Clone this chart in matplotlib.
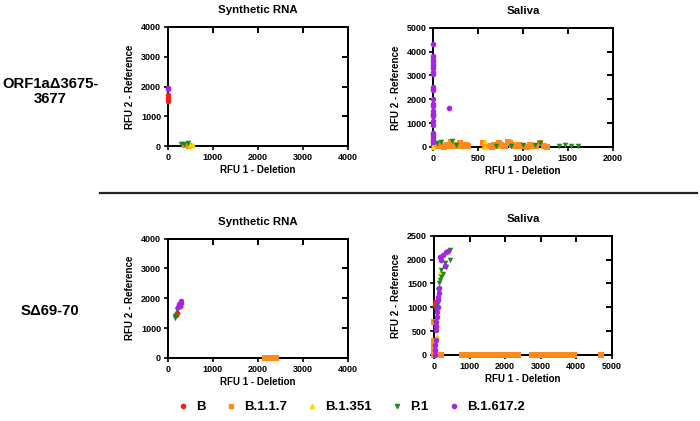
import matplotlib
matplotlib.use('Agg')
import matplotlib.pyplot as plt
from matplotlib.lines import Line2D

plt.rcParams['font.family'] = ['Liberation Sans', 'DejaVu Sans']
plt.rcParams['font.weight'] = 'bold'

variants = ['B', 'B.1.1.7', 'B.1.351', 'P.1', 'B.1.617.2']
colors = {'B': '#f01e1e', 'B.1.1.7': '#ff8a1c', 'B.1.351': '#f2dc00',
          'P.1': '#1e8a1e', 'B.1.617.2': '#a424e8'}
markers = {'B': 'o', 'B.1.1.7': 's', 'B.1.351': '^', 'P.1': 'v', 'B.1.617.2': 'o'}

# ORF1a deletion - synthetic RNA
orf_syn = {
    'B': ([0, 0, 0], [1500, 1600, 1700]),
    'B.1.1.7': ([380, 420, 460], [20, 40, 10]),
    'B.1.351': ([500, 540, 560], [30, 20, 40]),
    'P.1': ([300, 360, 450], [70, 60, 90]),
    'B.1.617.2': ([0, 0], [1900, 1950]),
}

# ORF1a deletion - saliva
orf_sal = {
    'B': ([0, 0, 0, 0, 0], [1400, 1350, 300, 200, 100]),
    'B.1.1.7': ([20, 40, 60, 90, 120, 150, 180, 200, 220, 260, 280, 300, 330, 360, 390,
                 550, 580, 620, 650, 680, 700, 730, 750, 780, 800, 830, 860, 880, 900,
                 930, 960, 1000, 1050, 1080, 1100, 1150, 1190, 1230, 1270],
                [50, 20, 80, 30, 10, 60, 40, 220, 30, 100, 50, 180, 20, 60, 30,
                 150, 20, 40, 10, 60, 30, 170, 90, 20, 40, 220, 150, 60, 30,
                 20, 80, 40, 10, 60, 30, 20, 150, 30, 10]),
    'B.1.351': ([0, 0, 580, 575], [0, 50, 250, 0]),
    'P.1': ([40, 90, 210, 250, 700, 870, 1000, 1140, 1190, 1400, 1470, 1540, 1610],
            [150, 220, 250, 80, 40, 50, 60, 80, 150, 40, 60, 50, 40]),
    'B.1.617.2': ([0, 0, 0, 0, 0, 0, 0, 0, 0, 0, 0, 0, 0, 0, 0, 0, 0, 0, 0, 0, 0, 0, 0, 170],
                  [4300, 3800, 3700, 3600, 3500, 3400, 3300, 3150, 3050, 2500, 2450,
                   2400, 2000, 1800, 1700, 1500, 1300, 1100, 900, 600, 500, 400, 200, 1650]),
}

# S deletion - synthetic RNA
s_syn = {
    'B': ([170, 200], [1450, 1500]),
    'B.1.1.7': ([2150, 2200, 2300, 2350, 2400], [0, 0, 0, 0, 0]),
    'B.1.351': ([300, 320], [1750, 1780]),
    'P.1': ([150, 160, 200], [1400, 1350, 1600]),
    'B.1.617.2': ([220, 250, 260, 280, 300], [1700, 1800, 1750, 1850, 1900]),
}

# S deletion - saliva
s_sal = {
    'B': ([20, 40, 60], [1100, 1050, 1000]),
    'B.1.1.7': ([0, 10, 20, 0, 10, 20, 0, 200, 800, 850, 900, 950, 1000, 1050, 1200, 1250,
                 1300, 1400, 1450, 1600, 1650, 1800, 1850, 1900, 1950, 2000, 2050, 2100,
                 2150, 2200, 2250, 2300, 2350, 2750, 2800, 2900, 3000, 3050, 3100, 3200,
                 3250, 3300, 3350, 3400, 3450, 3500, 3550, 3600, 3700, 3750, 3800, 3850,
                 3950, 4700],
                [700, 300, 250, 200, 100, 50, 0, 0, 0, 0, 0, 0, 0, 0, 0, 0,
                 0, 0, 0, 0, 0, 0, 0, 0, 0, 0, 0, 0,
                 0, 0, 0, 0, 0, 0, 0, 0, 0, 0, 0, 0,
                 0, 0, 0, 0, 0, 0, 0, 0, 0, 0, 0, 0,
                 0, 0]),
    'B.1.351': ([80, 100, 180], [400, 600, 1750]),
    'P.1': ([40, 60, 80, 100, 120, 150, 170, 190, 200, 250, 300, 350, 450, 450],
            [700, 945, 1050, 1155, 1365, 1500, 1575, 1645, 1785, 1700, 1930, 1850, 2000, 2200]),
    'B.1.617.2': ([20, 40, 50, 60, 70, 80, 90, 100, 110, 120, 130, 140, 170, 200, 250, 300, 350, 400, 30, 60],
                  [0, 105, 315, 525, 700, 805, 900, 1015, 1150, 1225, 1300, 1400, 2060, 2000,
                   2100, 1855, 2150, 2180, 200, 600]),
}

fig = plt.figure(figsize=(7, 4.21), dpi=100)

panels = [
    (orf_syn, [0.240, 0.653, 0.257, 0.283], 4000, 4000, 1000, 1000, 'Synthetic RNA'),
    (orf_sal, [0.619, 0.651, 0.256, 0.283], 2000, 5000, 500, 1000, 'Saliva'),
    (s_syn, [0.240, 0.150, 0.257, 0.283], 4000, 4000, 1000, 1000, 'Synthetic RNA'),
    (s_sal, [0.620, 0.157, 0.254, 0.283], 5000, 2500, 1000, 500, 'Saliva'),
]

for data, rect, xmax, ymax, xstep, ystep, title in panels:
    ax = fig.add_axes(rect)
    xt = list(range(0, xmax + 1, xstep))
    yt = list(range(0, ymax + 1, ystep))

    # inward ticks on top and right (no labels) via twin axes
    tx = ax.twiny()
    tx.set_xlim(0, xmax)
    tx.set_xticks(xt[1:-1])
    tx.tick_params(axis='x', which='major', top=True, bottom=False, direction='in',
                   length=4.5, width=1.4, labeltop=False, labelbottom=False)
    ty = ax.twinx()
    ty.set_ylim(0, ymax)
    ty.set_yticks(yt[1:-1])
    ty.tick_params(axis='y', which='major', right=True, left=False, direction='in',
                   length=4.5, width=1.4, labelright=False, labelleft=False)
    for t in (tx, ty):
        for s in t.spines.values():
            s.set_linewidth(1.3)

    ax.set_zorder(tx.get_zorder() + 2)
    ax.patch.set_visible(False)
    for v in variants:
        xs, ys = data[v]
        ax.scatter(xs, ys, s=16, marker=markers[v], color=colors[v],
                   linewidths=0, clip_on=False, zorder=3)
    ax.set_xlim(0, xmax)
    ax.set_ylim(0, ymax)
    ax.set_xticks(xt)
    ax.set_yticks(yt)
    for s in ax.spines.values():
        s.set_linewidth(1.3)
    ax.tick_params(axis='both', direction='out', length=3, width=1.2,
                   labelsize=6.5, pad=2)
    for lab in ax.get_xticklabels() + ax.get_yticklabels():
        lab.set_fontweight('bold')
    ax.set_xlabel('RFU 1 - Deletion', fontsize=7, fontweight='bold', labelpad=2)
    ax.set_ylabel('RFU 2 - Reference', fontsize=7, fontweight='bold', labelpad=4)
    ax.set_title(title, fontsize=8.2, fontweight='bold', pad=10)

fig.text(0.072, 0.782, 'ORF1a\u03943675-\n3677', ha='center', va='center',
         fontsize=10.7, fontweight='bold', linespacing=1.1)
fig.text(0.072, 0.262, 'S\u039469-70', ha='center', va='center',
         fontsize=10.7, fontweight='bold')

fig.add_artist(Line2D([0.143, 0.996], [1 - 193 / 421, 1 - 193 / 421],
                      color='#222222', linewidth=1.6))

handles = [Line2D([], [], linestyle='none', marker=markers[v], color=colors[v],
                  markersize=3) for v in variants]
fig.legend(handles, variants, loc='center', bbox_to_anchor=(0.5, 1 - 407 / 421),
           ncol=5, frameon=False, prop={'size': 9.5, 'weight': 'bold'},
           handletextpad=0.4, columnspacing=1.3, handlelength=1.2)

fig.savefig('out.png', dpi=100)
